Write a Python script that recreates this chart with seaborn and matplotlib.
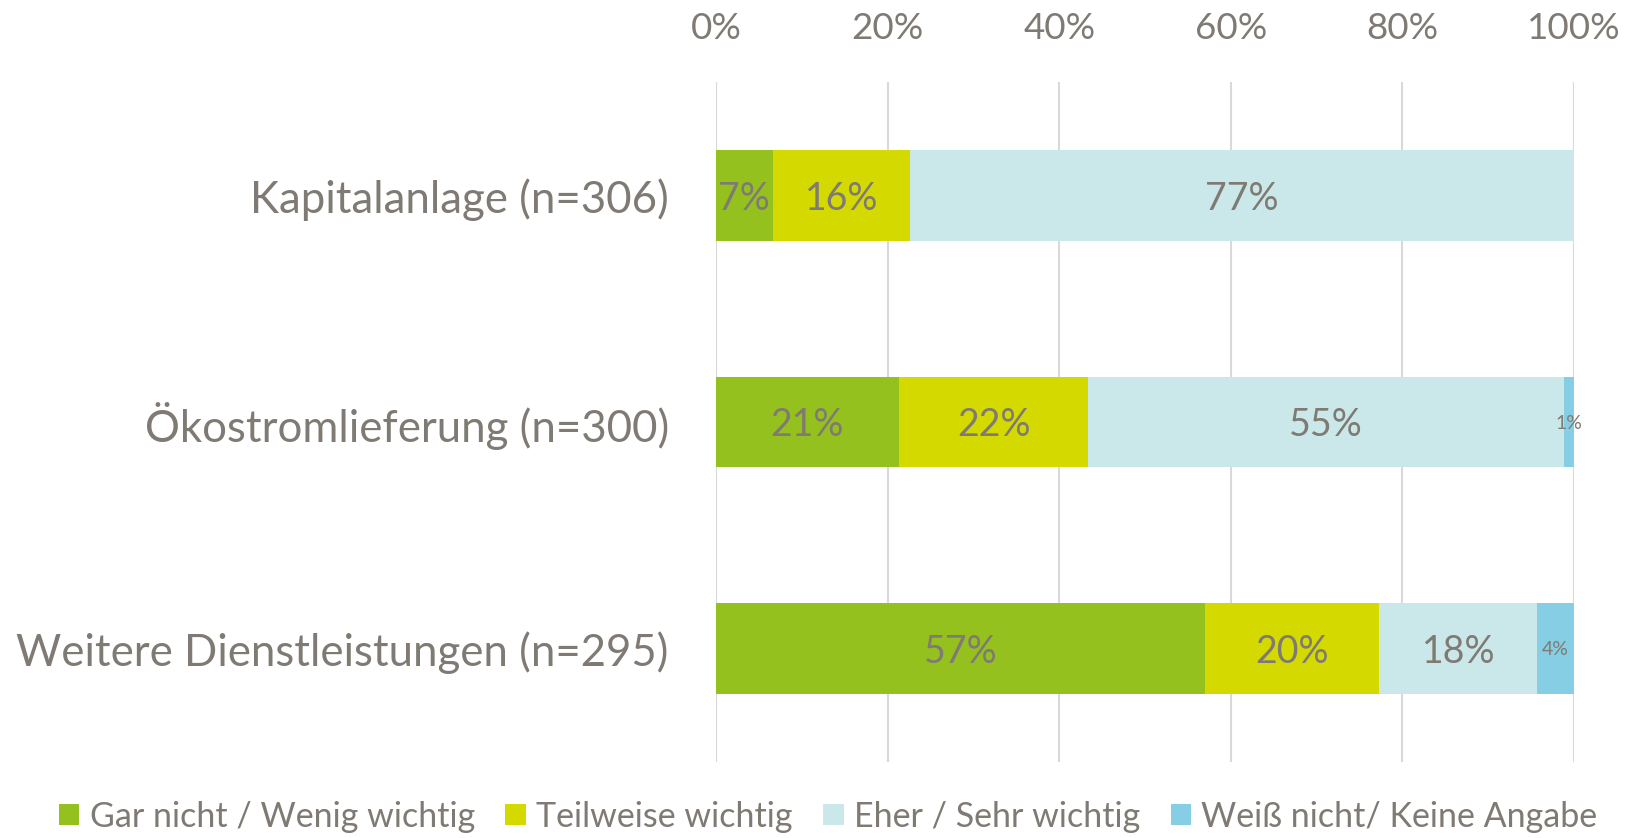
import numpy as np
import pandas as pd
import seaborn as sns
import matplotlib.pyplot as plt
from matplotlib.patches import Patch

# Daten (Anteile in %)
categories = ["Kapitalanlage (n=306)", "Ökostromlieferung (n=300)", "Weitere Dienstleistungen (n=295)"]
series = ["Gar nicht / Wenig wichtig", "Teilweise wichtig", "Eher / Sehr wichtig", "Weiß nicht/ Keine Angabe"]
gar_nicht = [6.6, 21.3, 57.0]
teilweise = [16.0, 22.1, 20.3]
eher_sehr = [77.4, 55.4, 18.4]
weiss_nicht = [0.0, 1.2, 4.3]
colors = ["#95C11F", "#D4D900", "#CAE8EA", "#85CEE4"]
grey = "#7F7A73"

sns.set_theme(style="white")
plt.rcParams['font.family'] = ['Lato', 'DejaVu Sans']

fig = plt.figure(figsize=(16.4, 8.38), dpi=100)
ax = fig.add_axes([0.4366, 0.091, 0.5232, 0.811])

values = np.array([gar_nicht, teilweise, eher_sehr, weiss_nicht])
cum = np.cumsum(values, axis=0)

# gestapelte Balken: kumulierte Summen von hinten nach vorne zeichnen
for k in range(len(series) - 1, -1, -1):
    df = pd.DataFrame({"cat": categories, "val": cum[k]})
    sns.barplot(data=df, x="val", y="cat", orient="h", color=colors[k],
                saturation=1, width=0.4, ax=ax, linewidth=0)

for k in range(len(series)):
    for i in range(len(categories)):
        v = values[k][i]
        if v <= 0:
            continue
        small = v < 5
        ax.text(cum[k][i] - v / 2, i, "%d%%" % round(v),
                ha="center", va="center_baseline", color=grey,
                fontsize=14 if small else 27)

ax.set_xlim(0, 100)
ax.set_ylim(2.5, -0.5)
ax.set_xticks([0, 20, 40, 60, 80, 100])
ax.set_xticklabels(["0%", "20%", "40%", "60%", "80%", "100%"])
ax.xaxis.tick_top()
ax.tick_params(axis="x", labelsize=26.5, labelcolor=grey, length=0, pad=27)
ax.tick_params(axis="y", labelsize=31.5, labelcolor=grey, length=0, pad=34)
ax.set_xlabel("")
ax.set_ylabel("")
ax.grid(axis="x", color="#D9D9D9", linewidth=1.5)
ax.set_axisbelow(True)
for s in ax.spines.values():
    s.set_visible(False)

handles = [Patch(facecolor=c, edgecolor="none") for c in colors]
fig.legend(handles, series, loc="lower center", bbox_to_anchor=(0.505, -0.03), ncol=4,
           frameon=False, fontsize=24.5, labelcolor=grey, handlelength=0.6,
           handleheight=0.6, handletextpad=0.3, columnspacing=0.9)

fig.savefig("out.png", dpi=100)
